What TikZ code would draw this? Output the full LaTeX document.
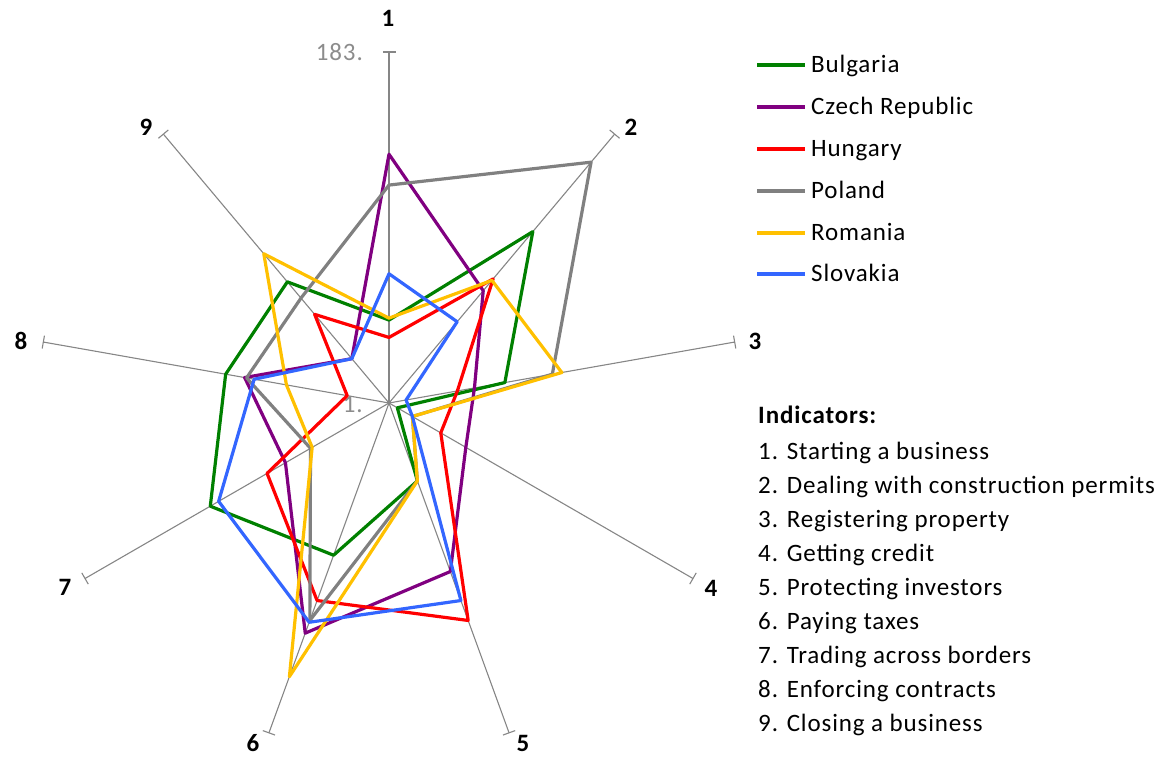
\documentclass[tikz,border=0pt]{standalone}
\usepackage{fontspec}
\setmainfont{Carlito}[LetterSpace=3.5]
\usetikzlibrary{calc}
\definecolor{cBG}{RGB}{0,128,0}
\definecolor{cCZ}{RGB}{128,0,128}
\definecolor{cHU}{RGB}{255,0,0}
\definecolor{cPL}{RGB}{128,128,128}
\definecolor{cRO}{RGB}{255,192,0}
\definecolor{cSK}{RGB}{51,102,255}
\definecolor{axisgray}{RGB}{134,134,134}
\definecolor{lblgray}{RGB}{140,140,140}
\begin{document}
\begin{tikzpicture}[x=1pt,y=1pt,
  font=\fontsize{25}{30}\selectfont,
  axisline/.style={draw=axisgray, line width=1.1pt},
  serie/.style={line width=3.2pt, line join=round},
  legline/.style={line width=3.2pt},
  axlabel/.style={font=\fontsize{25}{30}\selectfont\bfseries, inner sep=0pt, anchor=center},
  legtext/.style={inner sep=0pt, anchor=base west},
  scalelbl/.style={inner sep=0pt, anchor=base east, text=lblgray}]
\useasboundingbox (0,0) rectangle (1165,758);
\coordinate (C) at (389,355);
\foreach \k in {1,...,9} {
  \pgfmathsetmacro\ang{90-40*(\k-1)}
  \coordinate (A\k) at ($(C)+(\ang:351)$);
  \coordinate (Ta\k) at ($(A\k)!6.5pt!90:(C)$);
  \coordinate (Tb\k) at ($(A\k)!6.5pt!-90:(C)$);
  \draw[axisline] (C) -- (A\k);
  \draw[axisline] (Ta\k) -- (Tb\k);
}
% scale labels
\node[scalelbl] (smax) at (363,697) {183.};
\node[scalelbl] (smin) at (363,345) {1.};
% series vertices
\newcommand\defseries[2]{%
  \foreach \v [count=\k] in {#2} {\coordinate (#1-\k) at ($(C)!{(\v-1)/182}!(A\k)$);}}
\defseries{bg}{44,117,62,6,44,85,108,87,83}
\defseries{cz}{130,77,46,47,94,128,63,77,31}
\defseries{hu}{35,85,37,32,121,110,74,23,61}
\defseries{pl}{114,164,87,15,44,121,48,76,72}
\defseries{ro}{45,84,92,15,44,152,47,55,102}
\defseries{sk}{68,56,10,15,110,122,103,72,31}
\foreach \s/\c in {bg/cBG, cz/cCZ, hu/cHU, pl/cPL, ro/cRO, sk/cSK} {
  \draw[serie, draw=\c] (\s-1) -- (\s-2) -- (\s-3) -- (\s-4) -- (\s-5) -- (\s-6) -- (\s-7) -- (\s-8) -- (\s-9) -- cycle;
}
% axis labels
\node[axlabel] (L1) at (388,740) {1};
\node[axlabel] (L2) at (631,631) {2};
\node[axlabel] (L3) at (755,417) {3};
\node[axlabel] (L4) at (711,170) {4};
\node[axlabel] (L5) at (523,15) {5};
\node[axlabel] (L6) at (253,15) {6};
\node[axlabel] (L7) at (65,171) {7};
\node[axlabel] (L8) at (21,417) {8};
\node[axlabel] (L9) at (146,631) {9};
% legend
\foreach \c/\n/\y [count=\i] in {cBG/Bulgaria/65, cCZ/Czech Republic/107, cHU/Hungary/149, cPL/Poland/191, cRO/Romania/233, cSK/Slovakia/274} {
  \coordinate (La\i) at (757,{758-\y});
  \coordinate (Lb\i) at (805,{758-\y});
  \draw[legline, draw=\c] (La\i) -- (Lb\i);
  \node[legtext] (Lt\i) at (811,{758-\y-8}) {\n};
}
% indicators
\node[legtext, font=\fontsize{25}{30}\selectfont\bfseries] (ind) at (758,{758-416-8}) {Indicators:};
\foreach \t [count=\i] in {1. Starting a business, 2. Dealing with construction permits, 3. Registering property, 4. Getting credit, 5. Protecting investors, 6. Paying taxes, 7. Trading across borders, 8. Enforcing contracts, 9. Closing a business} {
  \node[legtext] (I\i) at (758,{758-(452+33.9*(\i-1))-8}) {\t};
}
\end{tikzpicture}
\end{document}
